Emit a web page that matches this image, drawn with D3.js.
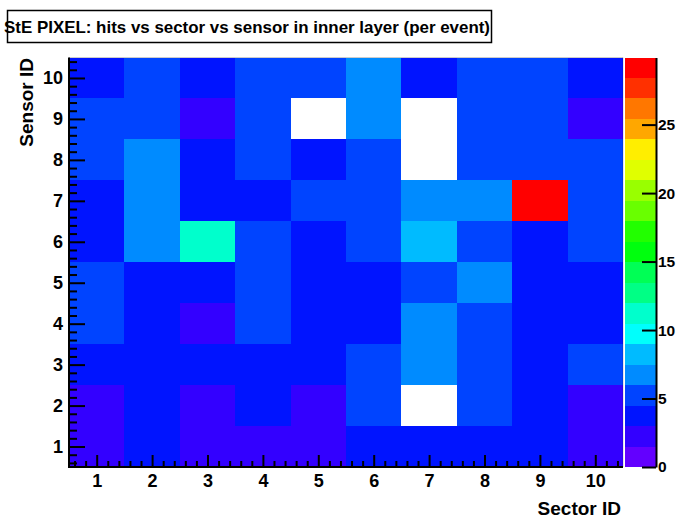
<!DOCTYPE html>
<html>
<head>
<meta charset="utf-8">
<script src="https://cdnjs.cloudflare.com/ajax/libs/d3/7.8.5/d3.min.js"></script>
<style>
  body { margin: 0; background: #fff; }
  text { font-family: "Liberation Sans", Arial, Helvetica, sans-serif; font-weight: bold; }
</style>
</head>
<body>
<section></section>
<script>

// Data: hits per event, rows = sensor 1..10, columns = sector 1..10
var sectors = [1, 2, 3, 4, 5, 6, 7, 8, 9, 10]
var sensors = [1, 2, 3, 4, 5, 6, 7, 8, 9, 10]
var hitsSensor1  = [2.4, 3.8, 2.6, 2.7, 2.5, 3.9, 4.0, 3.7, 3.6, 2.3]
var hitsSensor2  = [2.2, 3.6, 2.5, 3.9, 2.8, 5.1, 0,   5.0, 3.8, 2.4]
var hitsSensor3  = [3.5, 3.9, 3.7, 3.6, 3.8, 5.3, 6.6, 5.2, 3.9, 5.0]
var hitsSensor4  = [5.0, 3.9, 2.7, 5.2, 3.8, 3.7, 6.7, 5.1, 3.6, 3.8]
var hitsSensor5  = [5.1, 3.7, 3.8, 5.0, 3.6, 3.9, 5.3, 6.9, 3.8, 3.7]
var hitsSensor6  = [3.9, 6.8, 11.1, 5.2, 3.8, 5.1, 8.4, 5.0, 3.7, 5.2]
var hitsSensor7  = [3.8, 6.9, 3.9, 3.7, 5.1, 5.3, 7.0, 6.8, 29.9, 5.2]
var hitsSensor8  = [5.2, 6.7, 3.9, 5.1, 3.8, 5.0, 0,   5.3, 5.1, 5.2]
var hitsSensor9  = [5.0, 5.2, 2.8, 5.1, 0,   6.8, 0,   5.3, 5.2, 2.7]
var hitsSensor10 = [3.9, 5.1, 3.8, 5.2, 5.3, 6.7, 3.7, 5.1, 5.0, 3.8]
var hits = [hitsSensor1, hitsSensor2, hitsSensor3, hitsSensor4, hitsSensor5,
            hitsSensor6, hitsSensor7, hitsSensor8, hitsSensor9, hitsSensor10]

var zTicks = [0, 5, 10, 15, 20, 25]
var titleText = "StE PIXEL: hits vs sector vs sensor in inner layer (per event)"

// Setup size (frame in page pixels).
var W = 676, H = 526
var frame = { left: 69, right: 623, top: 57.5, bottom: 467 }
var pal = { left: 625, right: 656 }
var nContours = 20

// flatten to cells
var cells = []
sensors.forEach(function (s, i) {
    sectors.forEach(function (x, j) {
        cells.push({ sector: x, sensor: s, v: hits[i][j] })
    })
})
var zmax = d3.max(cells, function (d) { return d.v })

// ROOT "pretty" palette: 50 hues violet -> red, 20 contour levels
var paletteColors = d3.range(nContours).map(function (k) {
    var idx = Math.floor((k + 0.99) * 50 / nContours)
    var hue = Math.max(0, 280 - (idx + 1) * 5.6)
    return d3.hsl(hue, 1, 0.5).formatHex()
})
var color = d3.scaleQuantize().domain([0, zmax]).range(paletteColors)

// Scales
var xScale = d3.scaleLinear().domain([0.5, 10.5]).range([frame.left, frame.right])
var yScale = d3.scaleLinear().domain([0.5, 10.5]).range([frame.bottom, frame.top])
var zScale = d3.scaleLinear().domain([0, zmax]).range([frame.bottom, frame.top])

var svg = d3.select("section")
    .append("svg")
    .attr("width", W)
    .attr("height", H)

svg.append("rect").attr("width", W).attr("height", H).attr("fill", "#fff")

// Cells (empty bins are not drawn)
svg.append("g")
    .selectAll("rect")
    .data(cells.filter(function (d) { return d.v > 0 }))
    .enter()
    .append("rect")
    .attr("x", function (d) { return xScale(d.sector - 0.5) })
    .attr("y", function (d) { return yScale(d.sensor + 0.5) })
    .attr("width", function (d) { return xScale(d.sector + 0.5) - xScale(d.sector - 0.5) })
    .attr("height", function (d) { return yScale(d.sensor - 0.5) - yScale(d.sensor + 0.5) })
    .attr("fill", function (d) { return color(d.v) })
    .attr("shape-rendering", "crispEdges")

// x axis: major + minor ticks pointing inward
var xMinor = d3.range(6, 105, 2).map(function (d) { return d / 10 }).filter(function (d) { return d % 1 !== 0 })
svg.append("g")
    .attr("transform", "translate(0," + frame.bottom + ")")
    .call(d3.axisBottom(xScale).tickValues(xMinor).tickSizeInner(-6).tickSizeOuter(0).tickFormat(""))
    .call(function (g) { g.select(".domain").remove() })
var xAxisG = svg.append("g")
    .attr("transform", "translate(0," + frame.bottom + ")")
    .call(d3.axisBottom(xScale).tickValues(sectors).tickSizeInner(-12).tickSizeOuter(0).tickPadding(7).tickFormat(d3.format("d")))
xAxisG.select(".domain").remove()
xAxisG.selectAll("text").style("font-size", "18px").attr("fill", "#000")

// y axis
svg.append("g")
    .attr("transform", "translate(" + frame.left + ",0)")
    .call(d3.axisLeft(yScale).tickValues(xMinor).tickSizeInner(-8).tickSizeOuter(0).tickFormat(""))
    .call(function (g) { g.select(".domain").remove() })
var yAxisG = svg.append("g")
    .attr("transform", "translate(" + frame.left + ",0)")
    .call(d3.axisLeft(yScale).tickValues(sensors).tickSizeInner(-16).tickSizeOuter(0).tickPadding(6).tickFormat(d3.format("d")))
yAxisG.select(".domain").remove()
yAxisG.selectAll("text").style("font-size", "18px").attr("fill", "#000")

svg.selectAll(".tick line").attr("stroke", "#000").attr("stroke-width", 2)

// frame axes lines (left and bottom)
svg.append("path")
    .attr("d", "M" + frame.left + "," + frame.top + "V" + frame.bottom + "H" + frame.right)
    .attr("fill", "none").attr("stroke", "#000").attr("stroke-width", 2)
svg.append("path")
    .attr("d", "M" + frame.left + "," + frame.top + "H" + frame.right + "V" + frame.bottom)
    .attr("fill", "none").attr("stroke", "#000").attr("stroke-width", 0.5).attr("opacity", 0.4)

// Axis titles
svg.append("text")
    .attr("x", 621).attr("y", 515)
    .attr("text-anchor", "end")
    .style("font-size", "19px")
    .text("Sector ID")
svg.append("text")
    .attr("transform", "translate(33,58) rotate(-90)")
    .attr("text-anchor", "end")
    .style("font-size", "19px")
    .text("Sensor ID")

// Palette (z axis)
svg.append("g")
    .selectAll("rect")
    .data(d3.range(nContours))
    .enter()
    .append("rect")
    .attr("x", pal.left)
    .attr("width", pal.right - pal.left)
    .attr("y", function (k) { return zScale((k + 1) * zmax / nContours) })
    .attr("height", function (k) { return zScale(k * zmax / nContours) - zScale((k + 1) * zmax / nContours) })
    .attr("fill", function (k) { return paletteColors[k] })
    .attr("shape-rendering", "crispEdges")

var zAxisG = svg.append("g")
    .attr("transform", "translate(" + pal.right + ",0)")
    .call(d3.axisRight(zScale).tickValues(zTicks).tickSizeInner(-14).tickSizeOuter(0).tickPadding(2))
zAxisG.select(".domain").attr("stroke", "#000").attr("stroke-width", 2)
zAxisG.selectAll(".tick line").attr("stroke", "#000").attr("stroke-width", 2)
zAxisG.selectAll("text").style("font-size", "15.5px").attr("fill", "#000")

// Title box
svg.append("rect")
    .attr("x", 7.5).attr("y", 10.5)
    .attr("width", 484).attr("height", 32)
    .attr("fill", "#fff").attr("stroke", "#000").attr("stroke-width", 1.5)
svg.append("text")
    .attr("x", 4).attr("y", 33)
    .attr("textLength", 486)
    .attr("lengthAdjust", "spacingAndGlyphs")
    .style("font-size", "17px")
    .text(titleText)

</script>
</body>
</html>
